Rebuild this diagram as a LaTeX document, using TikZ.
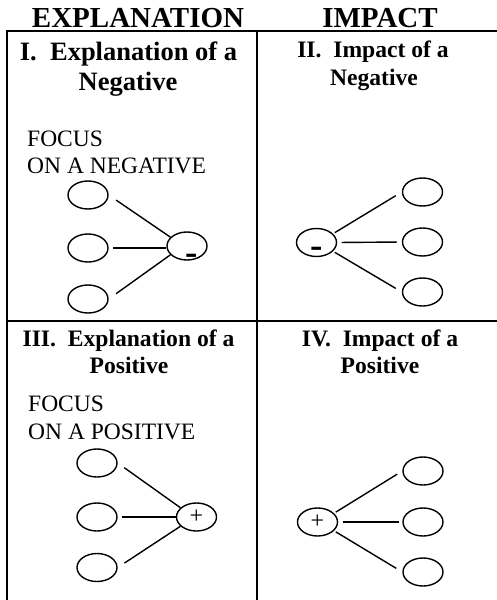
\documentclass[tikz,border=0pt]{standalone}
\usepackage{fontspec}
\setmainfont{Liberation Serif}
\usetikzlibrary{shapes.geometric}
\begin{document}
\begin{tikzpicture}[x=1pt,y=-1pt,
  frame/.style={line width=2pt},
  bub/.style={ellipse, draw, line width=1.4pt, minimum width=40pt, minimum height=28pt, inner sep=0pt, font=\fontsize{24}{24}\selectfont},
  link/.style={line width=1.4pt},
  hdr/.style={font=\fontsize{29}{29}\selectfont\bfseries, anchor=base, inner sep=0pt},
  ttlA/.style={font=\fontsize{26.5}{30}\selectfont\bfseries, anchor=base, inner sep=0pt},
  ttl/.style={font=\fontsize{23.6}{28}\selectfont\bfseries, anchor=base, inner sep=0pt},
  focus/.style={font=\fontsize{23.5}{27}\selectfont, anchor=base west, inner sep=0pt},
  sign/.style={font=\fontsize{37}{37}\selectfont\bfseries, anchor=base, inner sep=0pt}
]
\path[use as bounding box] (0,0) rectangle (497,600);
% frame
\draw[frame] (497,30.7) -- (7.3,30.7) -- (7.3,600);
\draw[frame] (256.7,30.7) -- (256.7,600);
\draw[frame] (7.3,320.7) -- (497,320.7);
% headers
\node[hdr] (h1) at (138,27) {EXPLANATION};
\node[hdr] (h2) at (380,27) {IMPACT};
% titles
\node[ttlA] (t1a) at (128.5,60) {I.\ \ Explanation of a};
\node[ttlA] (t1b) at (128,90) {Negative};
\node[ttl] (t2a) at (373,57) {II.\ \ Impact of a};
\node[ttl] (t2b) at (374,85) {Negative};
\node[ttl] (t3a) at (128.5,346) {III.\ \ Explanation of a};
\node[ttl] (t3b) at (129,373) {Positive};
\node[ttl] (t4a) at (380,346) {IV.\ \ Impact of a};
\node[ttl] (t4b) at (380,373) {Positive};
% focus texts
\node[focus] (f1a) at (27,146) {FOCUS};
\node[focus] (f1b) at (27,173) {ON A NEGATIVE};
\node[focus] (f3a) at (28,411) {FOCUS};
\node[focus] (f3b) at (28,439) {ON A POSITIVE};
% panel I
\node[bub] (L1) at (88,195) {};
\node[bub] (L2) at (88,248) {};
\node[bub] (L3) at (88,299) {};
\node[bub] (F1) at (187,246) {};
\node[sign] (m1) at (192,264) {-};
\draw[link, shorten <=9pt] (L1.east) -- (F1.152);
\draw[link, shorten <=4.5pt] (L2.east) -- (L2.east -| F1.west);
\draw[link, shorten <=9pt] (L3.east) -- (F1.208);
% panel II
\node[bub] (F2) at (316.5,242.5) {};
\node[bub] (R1) at (422.5,192) {};
\node[bub] (R2) at (422.5,242) {};
\node[bub] (R3) at (422.5,292) {};
\node[sign] (m2) at (317,257) {-};
\draw[link, shorten <=2pt, shorten >=7pt] (F2.28) -- (R1.west);
\draw[link, shorten <=4.5pt, shorten >=5pt] (F2.east) -- (R2.west);
\draw[link, shorten <=2pt, shorten >=7pt] (F2.-28) -- (R3.west);
% panel III
\node[bub] (L4) at (97,463) {};
\node[bub] (L5) at (97,517) {};
\node[bub] (L6) at (97,567.5) {};
\node[bub] (F3) at (196.5,517) {+};
\draw[link, shorten <=8pt] (L4.east) -- (F3.150);
\draw[link, shorten <=4pt] (L5.east) -- (F3.west);
\draw[link, shorten <=8pt] (L6.east) -- (F3.210);
% panel IV
\node[bub] (F4) at (317.5,522) {+};
\node[bub] (R4) at (423,471) {};
\node[bub] (R5) at (423,522) {};
\node[bub] (R6) at (423,572) {};
\draw[link, shorten <=2pt, shorten >=6pt] (F4.28) -- (R4.west);
\draw[link, shorten <=4.5pt, shorten >=3pt] (F4.east) -- (R5.west);
\draw[link, shorten <=2pt, shorten >=7pt] (F4.-28) -- (R6.west);
\end{tikzpicture}
\end{document}
